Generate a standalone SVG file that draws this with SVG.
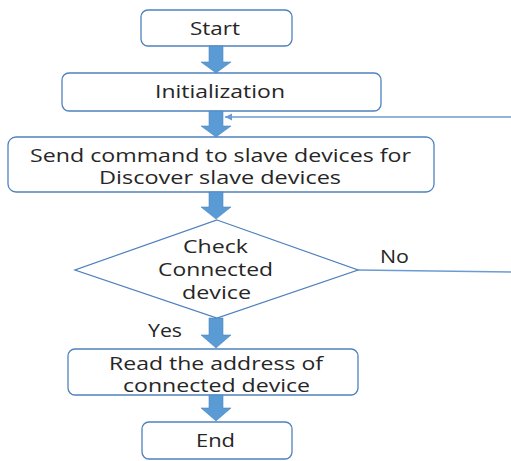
<svg xmlns="http://www.w3.org/2000/svg" width="511" height="461" viewBox="0 0 511 461">
<style>
.box{fill:#fff;stroke:#4f81bd;stroke-width:1.3}
.t{font-family:"Open Sans","Liberation Sans",sans-serif;font-size:18px;fill:#262626;text-anchor:start}
.ba{fill:#5b9bd5;stroke:#4f87c0;stroke-width:0.6}
.ln{fill:none;stroke:#6b9bd2;stroke-width:1.3}
</style>
<defs>
<marker id="ah" markerWidth="8" markerHeight="8" refX="7" refY="4" orient="auto" markerUnits="userSpaceOnUse">
<path d="M7,4 L0,0.5 L0,7.5 Z" fill="#6b9bd2"/>
</marker>
</defs>
<rect width="511" height="461" fill="#fff"/>
<g id="start"><rect class="box" x="141" y="10" width="151" height="36" rx="7"/><text class="t" x="190" y="35" textLength="50" lengthAdjust="spacingAndGlyphs">Start</text></g>
<g id="init"><rect class="box" x="62" y="73" width="319" height="38" rx="7"/><text class="t" x="155" y="98" textLength="130" lengthAdjust="spacingAndGlyphs">Initialization</text></g>
<g id="send"><rect class="box" x="8" y="137" width="426" height="55" rx="8"/><text class="t" x="30" y="162" textLength="381" lengthAdjust="spacingAndGlyphs">Send command to slave devices for</text><text class="t" x="99" y="184" textLength="242" lengthAdjust="spacingAndGlyphs">Discover slave devices</text></g>
<g id="check"><polygon class="box" points="217,220 358,270 217,318 75,270"/><text class="t" x="183" y="253" textLength="65" lengthAdjust="spacingAndGlyphs">Check</text><text class="t" x="158" y="276" textLength="115" lengthAdjust="spacingAndGlyphs">Connected</text><text class="t" x="182" y="299" textLength="69" lengthAdjust="spacingAndGlyphs">device</text></g>
<g id="read"><rect class="box" x="68" y="349" width="290" height="46" rx="7"/><text class="t" x="109" y="370" textLength="214" lengthAdjust="spacingAndGlyphs">Read the address of</text><text class="t" x="123" y="392" textLength="187" lengthAdjust="spacingAndGlyphs">connected device</text></g>
<g id="end"><rect class="box" x="142" y="422" width="150" height="37" rx="7"/><text class="t" x="196" y="447" textLength="39" lengthAdjust="spacingAndGlyphs">End</text></g>
<g id="connectors">
<path class="ba" d="M209,46 H223 V62 H231 L216,73 L201,62 H209 Z"/>
<path class="ba" d="M209,111 H223 V126 H231 L216,137 L201,126 H209 Z"/>
<path class="ba" d="M209,192 H223 V207 H231 L216,219 L201,207 H209 Z"/>
<path class="ba" d="M209,318 H223 V335 H231 L216,348 L201,335 H209 Z"/>
<path class="ba" d="M209,395 H223 V408 H231 L216,421 L201,408 H209 Z"/>
<path class="ln" d="M511,117 H225" marker-end="url(#ah)"/>
<path class="ln" d="M358,270 L511,272"/>
<text class="t" x="380" y="263" textLength="29" lengthAdjust="spacingAndGlyphs">No</text>
<text class="t" x="148" y="337" textLength="34" lengthAdjust="spacingAndGlyphs">Yes</text>
</g>
</svg>
